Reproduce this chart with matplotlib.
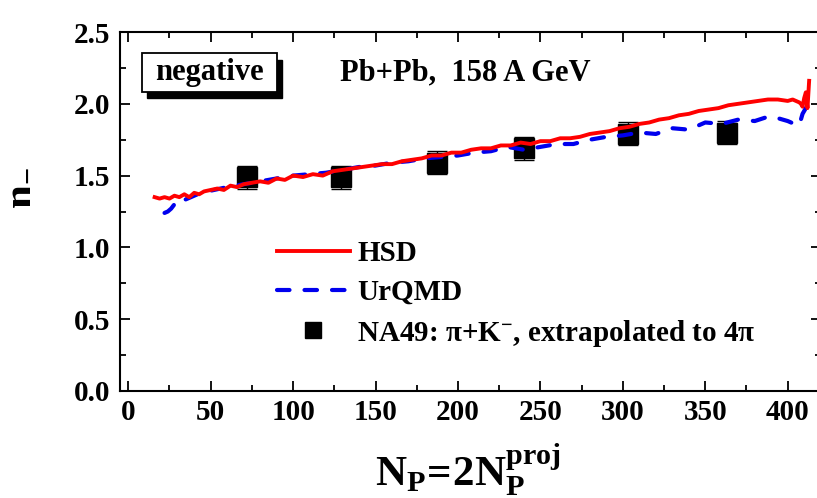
import numpy as np
import matplotlib
matplotlib.use("Agg")
import matplotlib.pyplot as plt
from matplotlib.lines import Line2D
from matplotlib.patches import Rectangle

plt.rcParams["font.family"] = ["Liberation Serif", "DejaVu Serif"]
plt.rcParams["font.weight"] = "bold"
plt.rcParams["mathtext.fontset"] = "custom"
plt.rcParams["mathtext.rm"] = "Liberation Serif:bold"
plt.rcParams["mathtext.it"] = "Liberation Serif:bold"
plt.rcParams["mathtext.bf"] = "Liberation Serif:bold"

# HSD result (solid red)
hsd_np = [16, 19, 22, 25, 28, 31, 34, 37, 40, 43, 46, 50, 54, 58, 62, 66, 70,
          75, 80, 85, 90, 95, 100, 106, 112, 118, 124, 130, 136, 142, 148, 154,
          160, 166, 172, 178, 184, 190, 196, 202, 208, 214, 220, 226, 232, 238,
          244, 250, 256, 262, 268, 274, 280, 286, 292, 298, 304, 310, 316, 322,
          328, 334, 340, 346, 352, 358, 364, 370, 376, 382, 388, 394, 400, 403,
          405, 407, 408, 409, 410, 411, 412, 413]
hsd_n = [1.35, 1.34, 1.35, 1.34, 1.36, 1.35, 1.37, 1.35, 1.38, 1.37, 1.39, 1.40,
         1.41, 1.40, 1.43, 1.42, 1.44, 1.45, 1.46, 1.45, 1.48, 1.47, 1.50, 1.49,
         1.51, 1.50, 1.53, 1.54, 1.55, 1.56, 1.57, 1.58, 1.58, 1.60, 1.61, 1.62,
         1.64, 1.64, 1.66, 1.66, 1.68, 1.69, 1.69, 1.71, 1.71, 1.73, 1.72, 1.74,
         1.74, 1.76, 1.76, 1.77, 1.79, 1.80, 1.81, 1.83, 1.84, 1.86, 1.87, 1.89,
         1.90, 1.92, 1.93, 1.95, 1.96, 1.97, 1.99, 2.00, 2.01, 2.02, 2.03, 2.03,
         2.02, 2.03, 2.02, 2.01, 2.00, 1.98, 2.04, 2.08, 1.97, 2.16]

# UrQMD result (dashed blue)
urqmd_np = [22, 24, 26, 28, 30, 32, 34, 36, 38, 40, 44, 48, 52, 56, 60, 65, 70,
            75, 80, 90, 100, 110, 120, 130, 140, 150, 160, 170, 180, 190, 200,
            210, 220, 230, 240, 250, 260, 270, 280, 290, 300, 310, 320, 330, 340,
            350, 360, 370, 380, 388, 394, 400, 404, 407, 409, 411, 412]
urqmd_n = [1.24, 1.25, 1.27, 1.30, 1.31, 1.30, 1.33, 1.34, 1.35, 1.36, 1.38,
           1.39, 1.40, 1.41, 1.42, 1.43, 1.44, 1.45, 1.46, 1.48, 1.50, 1.51,
           1.52, 1.54, 1.56, 1.57, 1.59, 1.60, 1.62, 1.63, 1.64, 1.66, 1.67,
           1.70, 1.68, 1.70, 1.72, 1.72, 1.75, 1.77, 1.78, 1.80, 1.79, 1.83,
           1.82, 1.87, 1.86, 1.89, 1.88, 1.91, 1.90, 1.88, 1.86, 1.85, 1.93,
           1.97, 2.00]

# NA49 data, pi + K-, extrapolated to 4pi
na49_np = [72, 129, 187, 240, 303, 363]
na49_n = [1.49, 1.49, 1.59, 1.69, 1.79, 1.80]
na49_err = [0.08, 0.08, 0.08, 0.08, 0.08, 0.08]

fig = plt.figure(figsize=(8.17, 4.98), dpi=100)
ax = fig.add_axes([0.1469, 0.2149, 0.8576, 0.7208])

ax.errorbar(na49_np, na49_n, yerr=na49_err, fmt="s", color="black",
            markersize=15, elinewidth=1, capsize=7, capthick=1, zorder=2)
ax.plot(urqmd_np, urqmd_n, color="#0000ee", lw=3, ls=(0, (3, 3.6)),
        dash_capstyle="round", zorder=3)
ax.plot(hsd_np, hsd_n, color="#ff0000", lw=2.8, zorder=4)

ax.set_xlim(-5, 420)
ax.set_ylim(0, 2.5)
ax.set_xticks(np.arange(0, 401, 50))
ax.set_xticks(np.arange(25, 420, 50), minor=True)
ax.set_yticks(np.arange(0, 2.51, 0.5))
ax.set_yticks(np.arange(0.25, 2.5, 0.5), minor=True)
ax.yaxis.set_major_formatter(matplotlib.ticker.FormatStrFormatter("%.1f"))
ax.tick_params(which="both", direction="in", top=True, right=True,
               labelsize=21, width=1.3)
ax.tick_params(which="major", length=7)
ax.tick_params(which="minor", length=4.5)
ax.tick_params(axis="x", pad=6)
ax.tick_params(axis="y", pad=7)
for s in ax.spines.values():
    s.set_linewidth(1.5)

ax.set_xlabel(r"$\mathrm{N_P\!=\!2N_P^{proj}}$", fontsize=31)
ax.xaxis.set_label_coords(0.497, -0.14)
ax.set_ylabel(r"$\mathrm{n_{-}}$", fontsize=31)
ax.yaxis.set_label_coords(-0.118, 0.565)

# boxed label with drop shadow
ax.add_patch(Rectangle((0.0385, 0.815), 0.193, 0.108, transform=ax.transAxes,
                       facecolor="black", edgecolor="black", zorder=5))
ax.add_patch(Rectangle((0.0314, 0.833), 0.193, 0.108, transform=ax.transAxes,
                       facecolor="white", edgecolor="black", lw=1.3, zorder=6))
ax.text(0.128, 0.887, "negative", transform=ax.transAxes, fontsize=22,
        ha="center", va="center", zorder=7)
ax.text(0.314, 0.886, "Pb+Pb,  158 A GeV", transform=ax.transAxes,
        fontsize=22, ha="left", va="center")

handles = [
    Line2D([], [], color="#ff0000", lw=2.8),
    Line2D([], [], color="#0000ee", lw=3, ls=(0, (3, 3.6)),
           dash_capstyle="round"),
    Line2D([], [], color="black", marker="s", ls="none", markersize=11.5),
]
labels = ["HSD", "UrQMD", r"NA49: $\mathrm{\pi{+}K^{-}}$, extrapolated to 4$\mathrm{\pi}$"]
ax.legend(handles, labels, loc="upper left", bbox_to_anchor=(0.224, 0.42),
          frameon=False, fontsize=21, handlelength=2.5, handletextpad=0.25,
          labelspacing=0.4, borderaxespad=0, borderpad=0)

fig.savefig("out.png", dpi=100)
